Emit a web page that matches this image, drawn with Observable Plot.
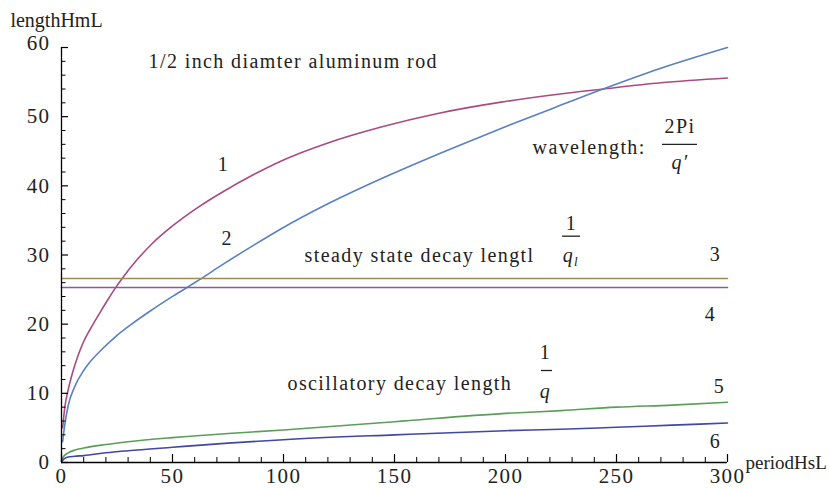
<!DOCTYPE html>
<html><head><meta charset="utf-8">
<script src="https://cdn.jsdelivr.net/npm/d3@7"></script>
<script src="https://cdn.jsdelivr.net/npm/@observablehq/plot@0.6"></script>
<style>body{margin:0;background:#fff} #chart{width:830px;height:489px} #chart svg text{font-family:'Liberation Serif','Times New Roman',Times,serif}</style>
</head><body><div id="chart"></div>
<script>
// ---- data ----
const period1 = [0.5,1.5,3,5,7.5,10,13,17,21,24,28,34,41,50,62,72,87,99,120,144,170,198,220,244,270,300];
const wave1   = [5,8,10.5,13,15.5,17.5,19.3,21.5,23.6,25.1,26.9,29.3,31.7,34.2,37.0,39.0,41.7,43.6,46.2,48.5,50.5,52.1,53.1,54.0,54.9,55.6];
const period2 = [0.5,1.5,3,6,10,12,18,24,32,40,49.5,57,62,72,87,99,120,148,175,198,222,244,270,300];
const wave2   = [3,5.5,8.2,11,13.3,14.2,16.3,18.1,20.1,21.9,23.9,25.4,26.4,28.5,31.5,33.8,37.4,41.6,45.3,48.3,51.3,54.0,57,60];
const period34 = [0,300];
const steady3 = [26.6,26.6];
const steady4 = [25.3,25.3];
const period56 = [0,1,3,6,10,20,30,50,75,100,150,200,225,250,275,300];
const osc5 = [0.3,0.9,1.4,1.8,2.1,2.6,3.0,3.6,4.2,4.7,5.9,7.1,7.5,8.0,8.3,8.7];
const osc6 = [0.1,0.5,0.8,0.9,1.0,1.4,1.7,2.2,2.8,3.3,4.0,4.6,4.8,5.1,5.4,5.7];
const xTickLabels = [0,50,100,150,200,250,300];
const xMinorTicks = d3.range(0,301,10).filter(v => v % 50 !== 0);
const yTickLabels = [0,10,20,30,40,50,60];
const yMinorTicks = d3.range(0,61,2).filter(v => v % 10 !== 0);
const curveNames = ["1","2","3","4","5","6"];
const colors = ["#ab4a80","#5a80c4","#a08a4a","#8a5a9a","#5a9e5a","#4048a0"];

const zipXY = (xs, ys) => xs.map((x, i) => ({x, y: ys[i]}));
const series = [
  zipXY(period1, wave1),
  zipXY(period2, wave2),
  zipXY(period34, steady3),
  zipXY(period34, steady4),
  zipXY(period56, osc5),
  zipXY(period56, osc6)
];

// ---- annotation placement (data coordinates) ----
const numberPos = [[73.0,43.1],[74.6,32.3],[294.6,30.1],[292.3,21.35],[296.4,10.94],[294.6,3.04]];
const numberLabels = curveNames.map((t, i) => ({t, x: numberPos[i][0], y: numberPos[i][1]}));
const startTexts = [
  {t: "1/2 inch diamter aluminum rod", x: 39.2, y: 57.9},
  {t: "wavelength:", x: 212.2, y: 45.6},
  {t: "steady state decay lengtl", x: 109.5, y: 29.98},
  {t: "oscillatory decay length", x: 101.8, y: 11.48},
];
const upright = [
  {t: "2Pi", x: 278.6, y: 48.5},
  {t: "1", x: 229.7, y: 34.47},
  {t: "1", x: 218.0, y: 15.87},
];
const italics = [
  {t: "q\u2032", x: 278.6, y: 43.4},
  {t: "q", x: 228.4, y: 29.98},
  {t: "q", x: 218.0, y: 10.18},
];
const fracBars = [
  {x1: 270.7, x2: 286.5, y: 45.98},
  {x1: 225.7, x2: 233.8, y: 32.72},
  {x1: 216.2, x2: 221.2, y: 13.3},
];

const W = 830, H = 489, mL = 61, mR = 103, mT = 47, mB = 27;
const frameW = W - mL - mR, frameH = H - mT - mB;
const font = "'Liberation Serif', 'Times New Roman', Times, serif";
const ink = "#222";

const chart = Plot.plot({
  width: W, height: H,
  marginLeft: mL, marginRight: mR, marginTop: mT, marginBottom: mB,
  x: {domain: [0, 300]},
  y: {domain: [0, 60]},
  style: {fontFamily: font, fontSize: "20px", color: ink, background: "#fff", letterSpacing: "1.4px", overflow: "visible"},
  marks: [
    ...series.map((s, i) => Plot.line(s, {x: "x", y: "y", stroke: colors[i], strokeWidth: 1.6, curve: "monotone-x"})),
    Plot.ruleX([0], {stroke: "#000", strokeWidth: 1.3}),
    Plot.ruleY([0], {stroke: "#000", strokeWidth: 1.3}),
    Plot.tickY(yTickLabels, {y: d => d, insetRight: frameW - 7, stroke: "#000", strokeWidth: 1.2}),
    Plot.tickY(yMinorTicks, {y: d => d, insetRight: frameW - 4.5, stroke: "#000", strokeWidth: 1}),
    Plot.tickX(xTickLabels, {x: d => d, insetTop: frameH - 8, stroke: "#000", strokeWidth: 1.2}),
    Plot.tickX(xMinorTicks, {x: d => d, insetTop: frameH - 5, stroke: "#000", strokeWidth: 1}),
    Plot.axisY({ticks: yTickLabels.slice(0, -1), tickSize: 0, tickPadding: 11, label: null, fontSize: 21}),
    Plot.axisY({ticks: yTickLabels.slice(-1), tickSize: 0, tickPadding: 11, label: null, fontSize: 21, dy: -4}),
    Plot.axisX({ticks: xTickLabels, tickSize: 0, tickPadding: 6, label: null, fontSize: 21}),
    Plot.text([{t: "lengthHmL", x: -23.0, y: 63.9}], {x: "x", y: "y", text: "t", textAnchor: "start", fill: ink, fontSize: 20, className: "tight"}),
    Plot.text([{t: "periodHsL", x: 308.1, y: -0.09}], {x: "x", y: "y", text: "t", textAnchor: "start", fill: ink, fontSize: 19, className: "tight"}),
    Plot.text(numberLabels, {x: "x", y: "y", text: "t", fill: ink, fontSize: 20}),
    Plot.text(startTexts, {x: "x", y: "y", text: "t", textAnchor: "start", fill: ink, fontSize: 20}),
    Plot.text(upright, {x: "x", y: "y", text: "t", fill: ink, fontSize: 20}),
    Plot.text(italics, {x: "x", y: "y", text: "t", fill: ink, fontSize: 20, fontStyle: "italic"}),
    Plot.text([{t: "l", x: 232.0, y: 28.99}], {x: "x", y: "y", text: "t", fill: ink, fontSize: 13, fontStyle: "italic"}),
    Plot.ruleY(fracBars, {y: "y", x1: "x1", x2: "x2", stroke: ink, strokeWidth: 1.3}),
  ]
});
// axis titles are drawn without the extra tracking so they fit the frame
d3.select(chart).selectAll("text")
  .filter(function() { return /^(lengthHmL|periodHsL)$/.test(this.textContent); })
  .style("letter-spacing", "0px");
document.getElementById("chart").appendChild(chart);
</script></body></html>
